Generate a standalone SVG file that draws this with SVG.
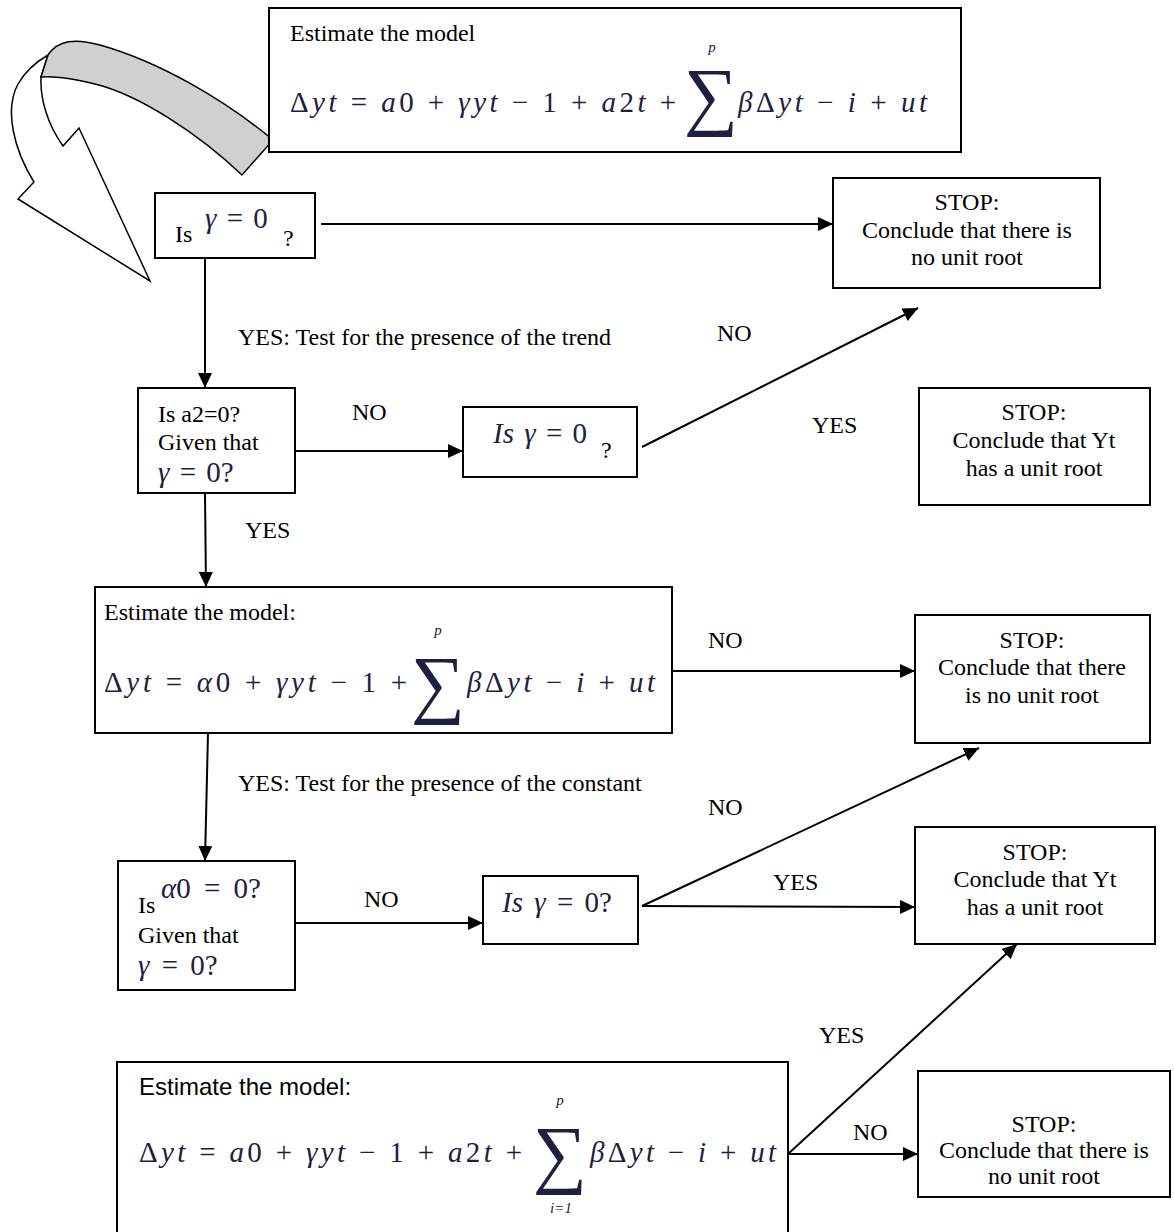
<svg xmlns="http://www.w3.org/2000/svg" width="1174" height="1232" viewBox="0 0 1174 1232">
<style>
.box{fill:#fff;stroke:#000;stroke-width:2}
.lbl{font-family:"Liberation Serif","Times New Roman",serif;font-size:24px;fill:#000}
.ctr{text-anchor:middle}
.sans{font-family:"Liberation Sans",Arial,sans-serif;font-size:24px;fill:#000}
.math{font-family:"Liberation Serif","Times New Roman",serif;font-size:29px;fill:#1f2040;letter-spacing:1px}
.q{letter-spacing:0;word-spacing:3px}
.i{font-style:italic}
.sum{font-family:"Liberation Serif","Times New Roman",serif;font-size:76px;fill:#1f2040;text-anchor:middle}
.sm{font-family:"Liberation Serif","Times New Roman",serif;font-size:15px;font-style:italic;fill:#1f2040;text-anchor:middle}
.conn{stroke:#000;stroke-width:2;fill:none}
</style>
<defs>
<marker id="ah" markerUnits="userSpaceOnUse" markerWidth="16" markerHeight="14" refX="15" refY="7" orient="auto">
<path d="M0,0 L15,7 L0,14 Z" fill="#000"/>
</marker>
</defs>

<g id="loop-arrow">
<path d="M41,77 C40,100 48,125 63,146 L79,128 L150,281 L18,199 L34,182 C14,150 4,110 18,84 C26,70 36,62 48,55 Z" fill="#fff" stroke="#000" stroke-width="1.5"/>
<path d="M48,55 C58,40 75,38 100,45 C160,62 225,100 273,140 L242,175 C200,135 140,95 95,84 C70,78 52,76 41,77 Z" fill="#d0d0d0" stroke="#000" stroke-width="1.5"/>
</g>

<g id="connectors">
<line class="conn" x1="321" y1="224" x2="833" y2="224" marker-end="url(#ah)"/>
<line class="conn" x1="205" y1="258" x2="205" y2="388" marker-end="url(#ah)"/>
<line class="conn" x1="295" y1="451" x2="463" y2="451" marker-end="url(#ah)"/>
<line class="conn" x1="642" y1="447" x2="918" y2="308" marker-end="url(#ah)"/>
<line class="conn" x1="205" y1="493" x2="206" y2="587" marker-end="url(#ah)"/>
<line class="conn" x1="672" y1="671" x2="915" y2="671" marker-end="url(#ah)"/>
<line class="conn" x1="208" y1="733" x2="205" y2="861" marker-end="url(#ah)"/>
<line class="conn" x1="295" y1="923" x2="483" y2="923" marker-end="url(#ah)"/>
<line class="conn" x1="642" y1="906" x2="979" y2="748" marker-end="url(#ah)"/>
<line class="conn" x1="642" y1="906" x2="915" y2="907" marker-end="url(#ah)"/>
<line class="conn" x1="788" y1="1154" x2="1017" y2="944" marker-end="url(#ah)"/>
<line class="conn" x1="788" y1="1154" x2="918" y2="1154" marker-end="url(#ah)"/>
</g>

<g id="labels">
<text class="lbl" x="238" y="345">YES: Test for the presence of the trend</text>
<text class="lbl" x="717" y="341">NO</text>
<text class="lbl" x="352" y="420">NO</text>
<text class="lbl" x="812" y="433">YES</text>
<text class="lbl" x="245" y="538">YES</text>
<text class="lbl" x="708" y="648">NO</text>
<text class="lbl" x="238" y="791">YES: Test for the presence of the constant</text>
<text class="lbl" x="708" y="815">NO</text>
<text class="lbl" x="364" y="907">NO</text>
<text class="lbl" x="773" y="890">YES</text>
<text class="lbl" x="819" y="1043">YES</text>
<text class="lbl" x="853" y="1140">NO</text>
</g>

<g id="model-trend">
<rect class="box" x="269" y="8" width="692" height="144"/>
<text class="lbl" x="290" y="41">Estimate the model</text>
<text class="math" x="290" y="112" textLength="387" lengthAdjust="spacing">Δ<tspan class="i">yt</tspan> = <tspan class="i">a</tspan>0 + <tspan class="i">γyt</tspan> − 1 + <tspan class="i">a</tspan>2<tspan class="i">t</tspan> +</text>
<text class="sm" x="712" y="52">p</text>
<text class="sum" x="711" y="121" font-size="70">∑</text>
<text class="math" x="738" y="112" textLength="190" lengthAdjust="spacing"><tspan class="i">β</tspan>Δ<tspan class="i">yt</tspan> − <tspan class="i">i</tspan> + <tspan class="i">ut</tspan></text>
</g>

<g id="q-gamma-1">
<rect class="box" x="155" y="193" width="160" height="65"/>
<text class="lbl" x="175" y="242">Is</text>
<text class="math q" x="205" y="228" font-size="30"><tspan class="i">γ</tspan> = 0</text>
<text class="lbl" x="283" y="246" font-size="22">?</text>
</g>

<g id="stop-1">
<rect class="box" x="833" y="178" width="267" height="110"/>
<text class="lbl ctr" x="967" y="210">STOP:</text>
<text class="lbl ctr" x="967" y="238">Conclude that there is</text>
<text class="lbl ctr" x="967" y="265">no unit root</text>
</g>

<g id="q-a2">
<rect class="box" x="138" y="388" width="157" height="105"/>
<text class="lbl" x="158" y="422">Is a2=0?</text>
<text class="lbl" x="158" y="450">Given that</text>
<text class="math q" x="158" y="482" font-size="30"><tspan class="i">γ</tspan> = 0?</text>
</g>

<g id="q-gamma-2">
<rect class="box" x="463" y="407" width="174" height="70"/>
<text class="math q" x="493" y="443" font-size="30"><tspan class="i">Is γ</tspan> = 0</text>
<text class="lbl" x="601" y="458" font-size="16">?</text>
</g>

<g id="stop-2">
<rect class="box" x="919" y="388" width="231" height="117"/>
<text class="lbl ctr" x="1034" y="420">STOP:</text>
<text class="lbl ctr" x="1034" y="448">Conclude that Yt</text>
<text class="lbl ctr" x="1034" y="476">has a unit root</text>
</g>

<g id="model-const">
<rect class="box" x="95" y="587" width="577" height="146"/>
<text class="lbl" x="104" y="620">Estimate the model:</text>
<text class="math" x="104" y="692" textLength="304" lengthAdjust="spacing">Δ<tspan class="i">yt</tspan> = <tspan class="i">α</tspan>0 + <tspan class="i">γyt</tspan> − 1 +</text>
<text class="sm" x="438" y="635">p</text>
<text class="sum" x="438" y="709">∑</text>
<text class="math" x="467" y="692" textLength="189" lengthAdjust="spacing"><tspan class="i">β</tspan>Δ<tspan class="i">yt</tspan> − <tspan class="i">i</tspan> + <tspan class="i">ut</tspan></text>
</g>

<g id="stop-3">
<rect class="box" x="915" y="615" width="235" height="128"/>
<text class="lbl ctr" x="1032" y="648">STOP:</text>
<text class="lbl ctr" x="1032" y="675">Conclude that there</text>
<text class="lbl ctr" x="1032" y="703">is no unit root</text>
</g>

<g id="q-a0">
<rect class="box" x="118" y="861" width="177" height="129"/>
<text class="lbl" x="138" y="913">Is</text>
<text class="math q" x="161" y="898" font-size="31" style="word-spacing:6px"><tspan class="i">α</tspan>0 = 0?</text>
<text class="lbl" x="138" y="943">Given that</text>
<text class="math q" x="138" y="975" font-size="30" style="word-spacing:5px"><tspan class="i">γ</tspan> = 0?</text>
</g>

<g id="q-gamma-3">
<rect class="box" x="483" y="876" width="155" height="68"/>
<text class="math q" x="502" y="912" font-size="30" style="word-spacing:4px"><tspan class="i">Is γ</tspan> = 0?</text>
</g>

<g id="stop-4">
<rect class="box" x="915" y="827" width="240" height="117"/>
<text class="lbl ctr" x="1035" y="860">STOP:</text>
<text class="lbl ctr" x="1035" y="887">Conclude that Yt</text>
<text class="lbl ctr" x="1035" y="915">has a unit root</text>
</g>

<g id="model-trend-2">
<rect class="box" x="117" y="1062" width="671" height="180"/>
<text class="sans" x="139" y="1095">Estimate the model:</text>
<text class="math" x="139" y="1162" textLength="384" lengthAdjust="spacing">Δ<tspan class="i">yt</tspan> = <tspan class="i">a</tspan>0 + <tspan class="i">γyt</tspan> − 1 + <tspan class="i">a</tspan>2<tspan class="i">t</tspan> +</text>
<text class="sm" x="560" y="1105">p</text>
<text class="sum" x="560" y="1179">∑</text>
<text class="sm" x="561" y="1213" font-style="normal"><tspan font-style="italic">i</tspan>=1</text>
<text class="math" x="590" y="1162" textLength="187" lengthAdjust="spacing"><tspan class="i">β</tspan>Δ<tspan class="i">yt</tspan> − <tspan class="i">i</tspan> + <tspan class="i">ut</tspan></text>
</g>

<g id="stop-5">
<rect class="box" x="918" y="1071" width="252" height="126"/>
<text class="lbl ctr" x="1044" y="1132">STOP:</text>
<text class="lbl ctr" x="1044" y="1158">Conclude that there is</text>
<text class="lbl ctr" x="1044" y="1184">no unit root</text>
</g>
</svg>
